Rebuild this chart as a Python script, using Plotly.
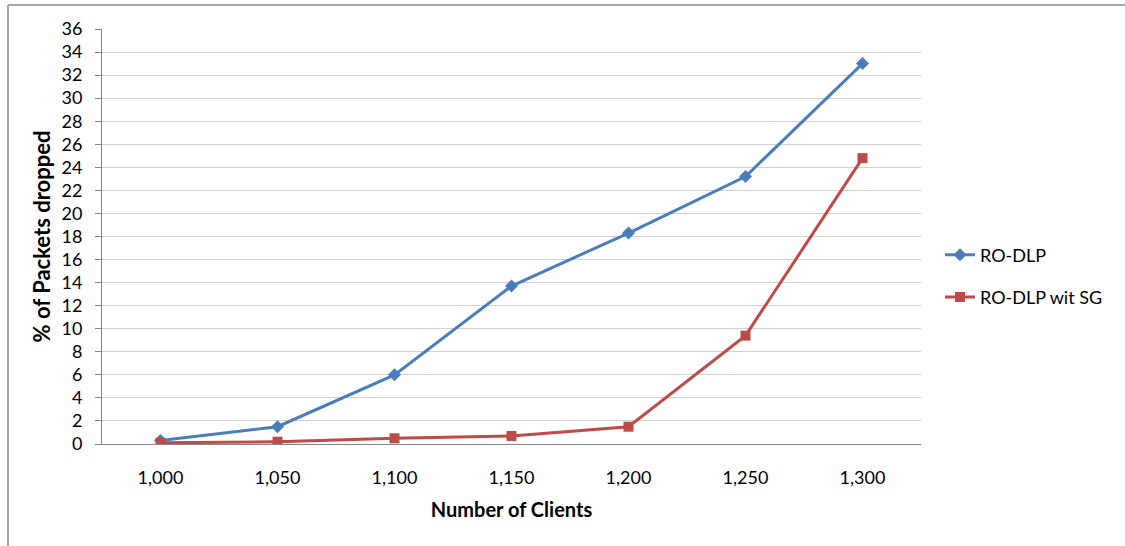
import plotly.graph_objects as go

clients = ["1,000", "1,050", "1,100", "1,150", "1,200", "1,250", "1,300"]
ro_dlp = [0.3, 1.5, 6.0, 13.7, 18.3, 23.2, 33.0]
ro_dlp_sg = [0.1, 0.2, 0.5, 0.7, 1.5, 9.4, 24.8]

W, H = 1125, 546
L, R, T, B = 102, 204, 29, 102
pw, ph = W - L - R, H - T - B

FONT = "Lato, Open Sans, sans-serif"
BLUE = "#4a7ebb"
RED = "#be4b48"

fig = go.Figure()
fig.add_trace(go.Scatter(
    x=clients, y=ro_dlp, name="RO-DLP", mode="lines+markers",
    line=dict(color=BLUE, width=3),
    marker=dict(symbol="diamond", size=10, color=BLUE),
    legendgroup="a",
))
fig.add_trace(go.Scatter(
    x=clients, y=ro_dlp_sg, name="RO-DLP wit SG", mode="lines+markers",
    line=dict(color=RED, width=3),
    marker=dict(symbol="square", size=10, color=RED),
    legendgroup="b",
))

# outer frame (left and top edges) in paper coords
def px_x(p):
    return (p - L) / pw

def px_y(p):
    return (H - B - p) / ph

frame = dict(type="line", xref="paper", yref="paper",
             line=dict(color="#a6a6a6", width=2))
shapes = [
    dict(frame, x0=px_x(8), y0=px_y(H + 5), x1=px_x(8), y1=px_y(5)),
    dict(frame, x0=px_x(8), y0=px_y(5), x1=px_x(W + 5), y1=px_y(5)),
]

fig.update_layout(
    width=W, height=H,
    margin=dict(l=L, r=R, t=T, b=B),
    paper_bgcolor="white", plot_bgcolor="white",
    font=dict(family=FONT, size=18, color="#000000"),
    shapes=shapes,
    showlegend=True,
    legend=dict(x=px_x(940), y=px_y(276), xanchor="left", yanchor="middle",
                font=dict(size=18, family=FONT), tracegroupgap=16,
                itemwidth=30, bgcolor="rgba(0,0,0,0)"),
    xaxis=dict(
        type="category", range=[-0.5, 6.5],
        showline=True, linecolor="#868686", linewidth=1,
        showgrid=False, ticks="", ticklabelstandoff=17,
        title=dict(text="<b>Number of Clients</b>", font=dict(size=20), standoff=16),
        tickfont=dict(size=18),
    ),
    yaxis=dict(
        range=[0, 36], dtick=2, tick0=0,
        showline=True, linecolor="#868686", linewidth=1,
        showgrid=True, gridcolor="#d0d0d0", gridwidth=1,
        ticks="outside", ticklen=6, tickcolor="#868686",
        ticklabelstandoff=9,
        tickfont=dict(size=18),
        title=dict(text="<b>% of Packets dropped</b>", font=dict(size=22), standoff=4),
        zeroline=False,
    ),
)

fig.write_html("out.html")
